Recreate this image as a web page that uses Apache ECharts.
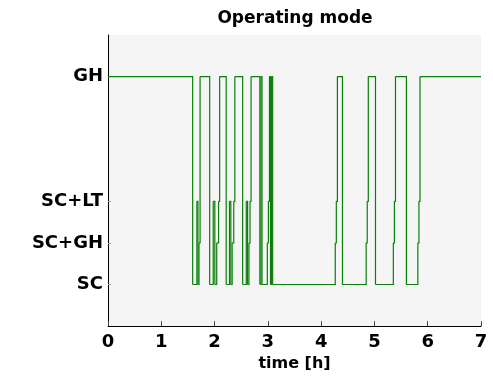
<!DOCTYPE html>
<html>
<head>
<meta charset="utf-8">
<script src="https://cdn.jsdelivr.net/npm/echarts@6/dist/echarts.min.js"></script>
<style>
html,body{margin:0;padding:0;background:#fff;}
#c{width:493px;height:377px;}
</style>
</head>
<body>
<div id="c"></div>
<script>
// Operating mode names and their levels on the y axis
const modeNames = ['SC', 'SC+GH', 'SC+LT', 'GH'];
const modeLevels = [1, 2, 3, 6];
// x-axis ticks (hours)
const xTicks = [0, 1, 2, 3, 4, 5, 6, 7];
// switching instants (h) and the mode held from each instant
const times = [0, 1.589, 1.668, 1.688, 1.708, 1.728,
  1.908, 1.975, 2.005, 2.040, 2.075, 2.095,
  2.218, 2.280, 2.305, 2.330, 2.360, 2.380,
  2.527, 2.595, 2.620, 2.645, 2.665, 2.685,
  2.850, 2.870, 2.890, 2.990, 3.010, 3.030, 3.050, 3.070, 3.090,
  4.265, 4.285, 4.305, 4.400, 4.845, 4.865, 4.885, 5.020,
  5.355, 5.375, 5.395, 5.600, 5.815, 5.835, 5.855, 7.0];
const modes = ['GH', 'SC', 'SC+LT', 'SC', 'SC+GH', 'GH',
  'SC', 'SC+LT', 'SC', 'SC+GH', 'SC+LT', 'GH',
  'SC', 'SC+LT', 'SC', 'SC+GH', 'SC+LT', 'GH',
  'SC', 'SC+LT', 'SC', 'SC+GH', 'SC+LT', 'GH',
  'SC', 'GH', 'SC', 'SC+GH', 'SC+LT', 'GH', 'SC', 'GH', 'SC',
  'SC+GH', 'SC+LT', 'GH', 'SC', 'SC+GH', 'SC+LT', 'GH', 'SC',
  'SC+GH', 'SC+LT', 'GH', 'SC', 'SC+GH', 'SC+LT', 'GH', 'GH'];

const levelOf = {};
modeNames.forEach((n, i) => { levelOf[n] = modeLevels[i]; });
const nameOf = {};
modeNames.forEach((n, i) => { nameOf[modeLevels[i]] = n; });
// one item per holding interval: [start, end, level held, next level]
const segData = [];
for (let i = 0; i < times.length - 1; i++) {
  segData.push([times[i], times[i + 1], levelOf[modes[i]], levelOf[modes[i + 1]]]);
}

const LINE = '#0a800a';
const FONT = 'DejaVu Sans';
const chart = echarts.init(document.getElementById('c'), null, {renderer: 'canvas'});
chart.setOption({
  animation: false,
  backgroundColor: '#ffffff',
  grid: {left: 108, right: 12, top: 35, bottom: 47, show: true,
         backgroundColor: '#f5f5f5', borderWidth: 0, containLabel: false},
  graphic: [{
    type: 'text', x: 295, y: 19,
    style: {text: 'Operating mode', fontFamily: FONT, fontWeight: 'bold', fontSize: 17,
            fill: '#000', align: 'center', verticalAlign: 'middle'}
  }],
  xAxis: {
    type: 'value', min: xTicks[0], max: xTicks[xTicks.length - 1], interval: 1,
    name: 'time [h]', nameLocation: 'middle', nameGap: 29,
    nameTextStyle: {fontFamily: FONT, fontWeight: 'bold', fontSize: 16, color: '#000'},
    axisLine: {show: true, lineStyle: {color: '#000', width: 1}},
    axisTick: {show: true, inside: true, length: 5, lineStyle: {color: '#444'}},
    axisLabel: {margin: 7, fontFamily: FONT, fontWeight: 'bold', fontSize: 18, color: '#000'},
    splitLine: {show: false}
  },
  yAxis: {
    type: 'value', min: 0, max: 7, interval: 1,
    axisLine: {show: true, lineStyle: {color: '#000', width: 1}},
    axisTick: {show: true, inside: true, length: 3, customValues: modeLevels,
               lineStyle: {color: '#999'}},
    axisLabel: {margin: 5, fontFamily: FONT, fontWeight: 'bold', fontSize: 18, color: '#000',
                customValues: modeLevels, formatter: v => nameOf[v] || ''},
    splitLine: {show: false}
  },
  series: [{
    type: 'custom',
    data: segData,
    encode: {x: [0, 1], y: [2, 3]},
    renderItem: function (params, api) {
      const t0 = api.value(0), t1 = api.value(1), l0 = api.value(2), l1 = api.value(3);
      const p0 = api.coord([t0, l0]);
      const p1 = api.coord([t1, l0]);
      const p2 = api.coord([t1, l1]);
      return {
        type: 'polyline',
        shape: {points: [p0, p1, p2]},
        style: {stroke: LINE, lineWidth: 1.2, fill: null}
      };
    }
  }]
});
</script>
</body>
</html>
